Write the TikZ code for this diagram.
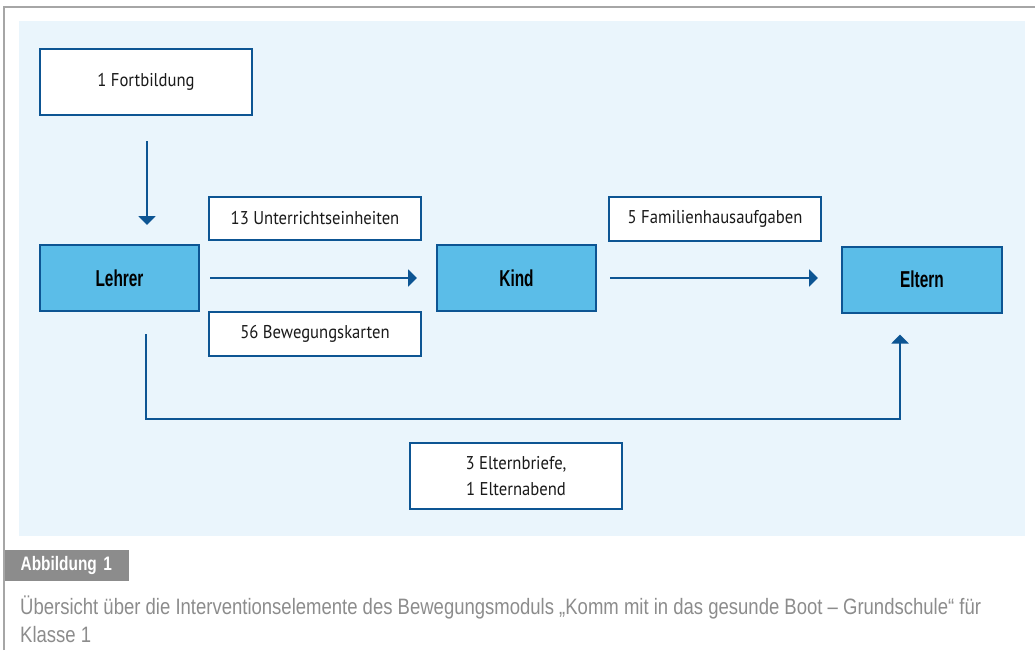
\documentclass[tikz,border=0pt]{standalone}
\usepackage{fontspec}
\usetikzlibrary{arrows.meta}
\newfontfamily\boxfont{PT Sans}[FakeStretch=0.9]
\newfontfamily\labfont{Liberation Sans}[FakeStretch=0.67]
\newfontfamily\abbfont{Liberation Sans}[FakeStretch=0.79]
\newfontfamily\capfont{Liberation Sans}[FakeStretch=0.83]
\definecolor{bgblue}{HTML}{EAF5FC}
\definecolor{boxblue}{HTML}{5BBDE8}
\definecolor{darkblue}{HTML}{0D5593}
\definecolor{framegray}{HTML}{A6A6A6}
\definecolor{capgray}{HTML}{8C8C8C}
\definecolor{txt}{HTML}{1A1A1A}
\begin{document}
\begin{tikzpicture}[x=1pt,y=-1pt,
  whitebox/.style={draw=darkblue,line width=2pt,fill=white,minimum width=212pt,inner sep=0pt,align=center,font=\boxfont\fontsize{18.5}{26}\selectfont,text=txt},
  bluebox/.style={draw=darkblue,line width=2pt,fill=boxblue,minimum width=159pt,minimum height=66pt,inner sep=0pt,font=\labfont\bfseries\fontsize{23}{26}\selectfont,text=black},
  arr/.style={draw=darkblue,line width=2pt,-{Triangle[width=17pt,length=9pt]}}]
\useasboundingbox (0,0) rectangle (1035,650);
\fill[bgblue] (19,21) rectangle (1025,536);
\draw[framegray,line width=1.5pt] (4,650) -- (4,7) -- (1035,7);

\node[whitebox,minimum height=66pt] (fort) at (146,82) {1 Fortbildung};
\node[bluebox] (lehrer) at (119.5,278) {Lehrer};
\node[bluebox] (kind) at (516.5,278) {Kind};
\node[bluebox,minimum width=160pt] (eltern) at (922,279.5) {Eltern};
\node[whitebox,minimum height=43pt] (unt) at (315,218.5) {13 Unterrichtseinheiten};
\node[whitebox,minimum height=44pt] (bew) at (315,334) {56 Bewegungskarten};
\node[whitebox,minimum height=44pt] (fam) at (715,219) {5 Familienhausaufgaben};
\node[whitebox,minimum height=66pt] (brief) at (516,476) {3 Elternbriefe,\\1 Elternabend};

\draw[arr,shorten <=25pt,shorten >=19pt] ([xshift=1pt]fort.south) -- ([xshift=1pt]fort.south |- lehrer.north);
\draw[arr,shorten <=10pt,shorten >=19pt] (lehrer.east) -- (kind.west);
\draw[arr,shorten <=13pt,shorten >=23pt] (kind.east) -- (kind.east -| eltern.west);
\draw[arr] ([xshift=26.5pt,yshift=-22pt]lehrer.south) -- ++(0,85) -| ([xshift=-22pt,yshift=-21pt]eltern.south);

\node[fill=capgray,anchor=north west,minimum height=31pt,inner xsep=16pt,inner ysep=0pt,text width=92pt,align=left,text=white,font=\abbfont\bfseries\fontsize{19.5}{22}\selectfont] (abb) at (4.5,550) {Abbildung 1};
\node[anchor=base west,inner sep=0pt,align=left,text=capgray,font=\capfont\fontsize{22.3}{28}\selectfont] (cap) at (20,642) {Übersicht über die Interventionselemente des Bewegungsmoduls „Komm mit in das gesunde Boot – Grundschule“ für\\Klasse 1};
\end{tikzpicture}
\end{document}
